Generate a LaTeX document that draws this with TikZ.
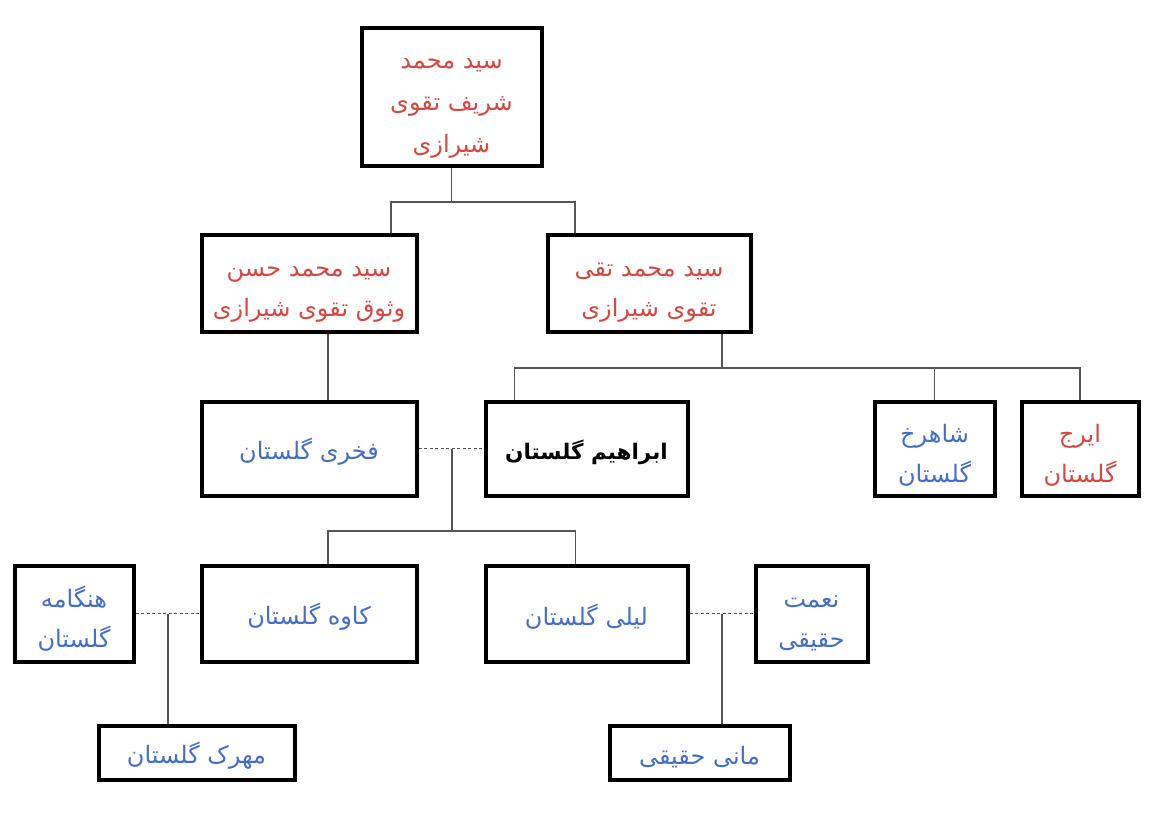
\documentclass[tikz,border=0pt]{standalone}
\usepackage{fontspec}
\newfontfamily\arabicfont[Script=Arabic]{DejaVu Sans}
\TeXXeTstate=1
\definecolor{namered}{RGB}{212,72,68}
\definecolor{nameblue}{RGB}{70,110,200}
\definecolor{linkgray}{RGB}{85,85,85}
\newcommand{\fa}[1]{\beginR #1\endR}
\newcommand{\lift}{\rule{0pt}{32pt}}

\begin{document}
\begin{tikzpicture}[
                x=1pt, y=-1pt,
                box/.style={rectangle, draw=black, line width=4pt, align=center, inner sep=0pt, font=\arabicfont\fontsize{24}{40}\selectfont},
                oneline/.style={execute at begin node={\rule{0pt}{27pt}}},
                red/.style={text=namered},
                blue/.style={text=nameblue},
                link/.style={draw=linkgray, line width=1.5pt},
                spouse/.style={draw=linkgray, line width=1.8pt, dash pattern=on 3pt off 2.5pt}
            ]
                \fill[white] (0,0) rectangle (1152,813);
                \useasboundingbox (0,0) rectangle (1152,813);

                % generation 1
                \node [box, red, minimum width=180pt, minimum height=138pt, font=\arabicfont\fontsize{24}{42}\selectfont] (sharif) at (451.5,97.5) {\lift\fa{سید محمد} \\ \fa{شریف تقوی} \\ \fa{شیرازی}};

                % generation 2
                \node [box, red, minimum width=215pt, minimum height=96pt] (hasan) at (309,283.5) {\lift\fa{سید محمد حسن} \\ \fa{وثوق تقوی شیرازی}};
                \node [box, red, minimum width=203pt, minimum height=96pt] (taqi) at (649,283.5) {\lift\fa{سید محمد تقی} \\ \fa{تقوی شیرازی}};

                % generation 3
                \node [box, oneline, blue, minimum width=215pt, minimum height=94pt] (fakhri) at (309,448.5) {\fa{فخری گلستان}};
                \node [box, oneline, minimum width=202pt, minimum height=94pt, font=\arabicfont\bfseries\fontsize{21.5}{40}\selectfont] (ebrahim) at (586.5,448.5) {\fa{ابراهیم گلستان}};
                \node [box, blue, minimum width=120pt, minimum height=94pt] (shahrokh) at (934.5,448.5) {\lift\fa{شاهرخ} \\ \fa{گلستان}};
                \node [box, red, minimum width=117pt, minimum height=94pt] (iraj) at (1080,448.5) {\lift\fa{ایرج} \\ \fa{گلستان}};

                % generation 4
                \node [box, blue, minimum width=119pt, minimum height=96pt] (hengameh) at (74,613.5) {\lift\fa{هنگامه} \\ \fa{گلستان}};
                \node [box, oneline, blue, minimum width=215pt, minimum height=96pt] (kaveh) at (309,613.5) {\fa{کاوه گلستان}};
                \node [box, oneline, blue, minimum width=202pt, minimum height=96pt] (leili) at (586.5,613.5) {\fa{لیلی گلستان}};
                \node [box, blue, minimum width=112pt, minimum height=96pt] (nemat) at (811.5,613.5) {\lift\fa{نعمت} \\ \fa{حقیقی}};

                % generation 5
                \node [box, oneline, blue, minimum width=196pt, minimum height=54pt] (mehrak) at (196.5,752.5) {\fa{مهرک گلستان}};
                \node [box, oneline, blue, minimum width=180pt, minimum height=54pt] (mani) at (699.5,752.5) {\fa{مانی حقیقی}};

                % joints
                \coordinate (j1) at (451.5,202);
                \coordinate (j2) at (722,368);
                \coordinate (m1) at (452,449);
                \coordinate (j3) at (452,531);
                \coordinate (m2) at (168,613.5);
                \coordinate (m3) at (722,613.5);

                \draw[link] (sharif.south) -- (j1);
                \draw[link] ([xshift=82pt]hasan.north) |- (j1) -| ([xshift=-74pt]taqi.north);
                \draw[link] ([xshift=19pt]hasan.south) -- ([xshift=19pt]fakhri.north);
                \draw[link] (j2 |- taqi.south) -- (j2);
                \draw[link] ([xshift=-72pt]ebrahim.north) |- (j2) -| (iraj.north);
                \draw[link] (j2) -| (shahrokh.north);

                \draw[spouse] (fakhri.east) -- (ebrahim.west);
                \draw[link] (m1) -- (j3);
                \draw[link] ([xshift=19pt]kaveh.north) |- (j3) -| ([xshift=-11pt]leili.north);

                \draw[spouse] (hengameh.east) -- (kaveh.west);
                \draw[link] (m2) -- (m2 |- mehrak.north);
                \draw[spouse] (leili.east) -- (nemat.west);
                \draw[link] (m3) -- (m3 |- mani.north);
            \end{tikzpicture}
\end{document}
